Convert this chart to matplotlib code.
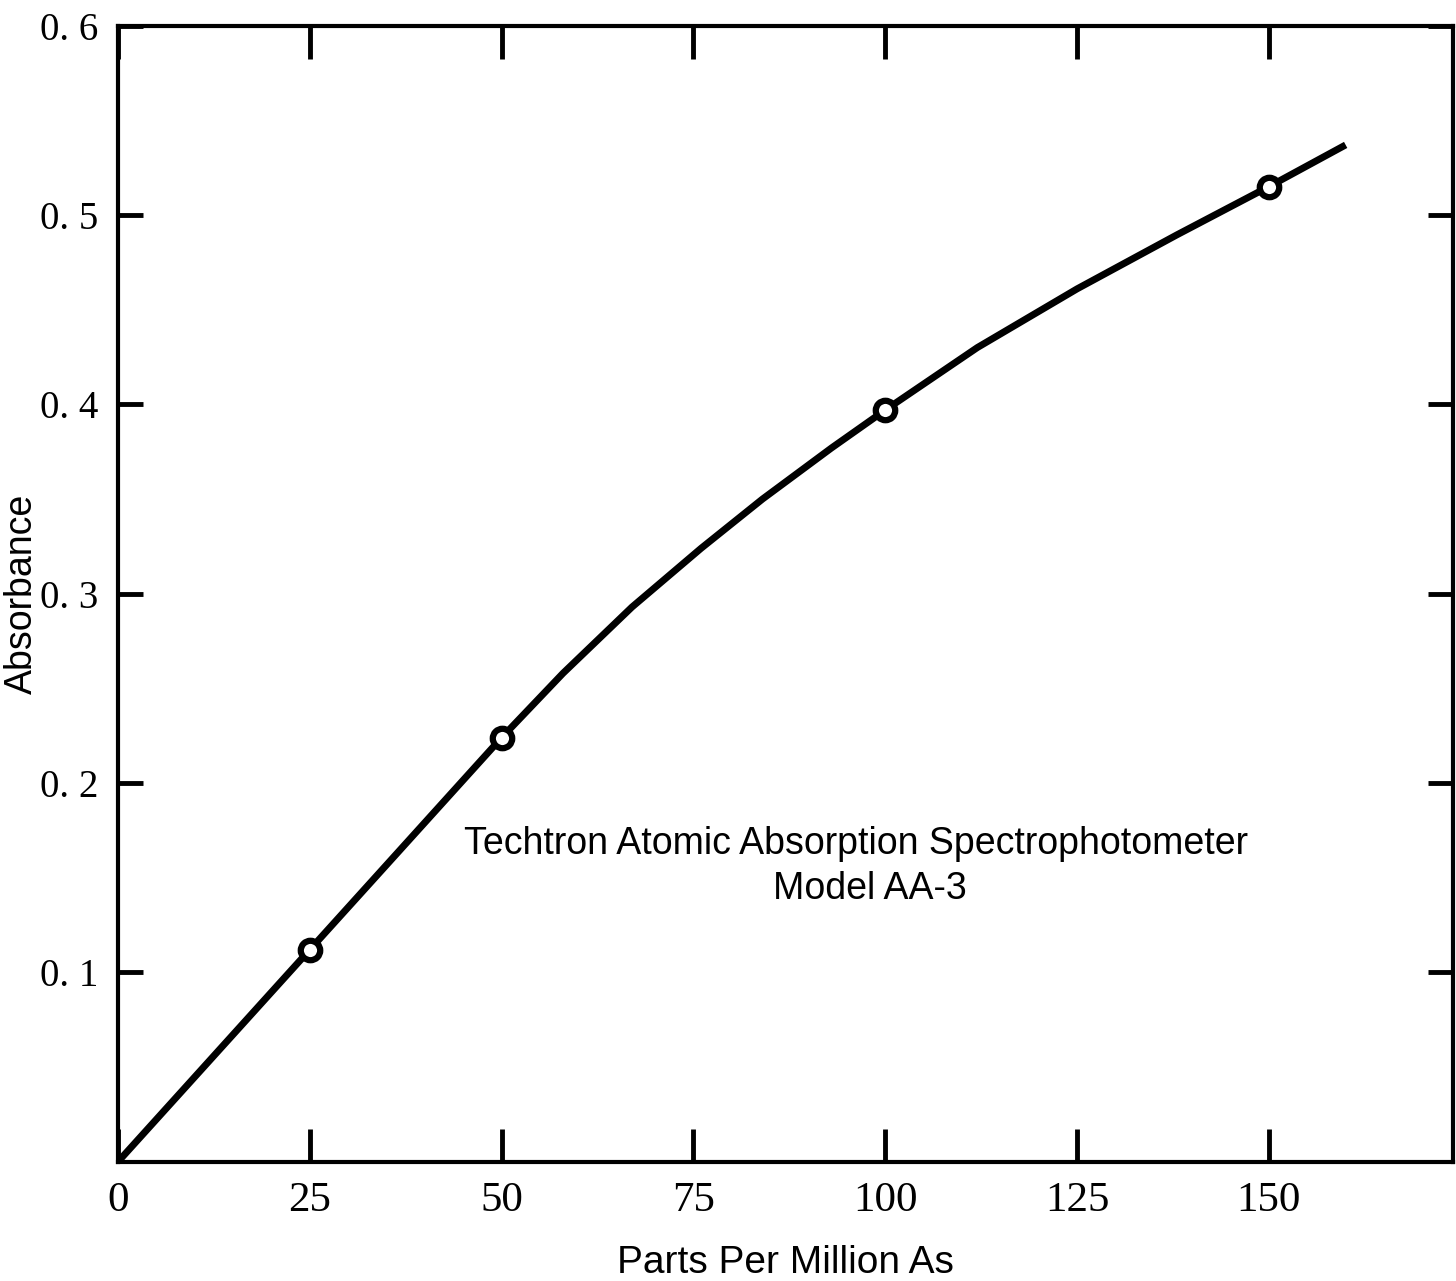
import matplotlib
matplotlib.use("Agg")
import matplotlib.pyplot as plt

# calibration points (ppm As vs absorbance)
ppm = [25, 50, 100, 150]
absorbance = [0.112, 0.224, 0.397, 0.515]

# drawn calibration curve
curve_ppm = [0, 25, 50, 58, 67, 76, 84, 93, 100, 112, 125, 138, 150, 160]
curve_abs = [0.0, 0.112, 0.224, 0.258, 0.293, 0.324, 0.350, 0.377, 0.397,
             0.430, 0.461, 0.4895, 0.515, 0.537]

x_ticks = [0, 25, 50, 75, 100, 125, 150]
y_ticks = [0.1, 0.2, 0.3, 0.4, 0.5, 0.6]
y_labels = ["0. 1", "0. 2", "0. 3", "0. 4", "0. 5", "0. 6"]

plt.rcParams["font.family"] = ["Liberation Sans", "DejaVu Sans"]

fig = plt.figure(figsize=(14.56, 12.81), dpi=100)
ax = fig.add_axes([0.081, 0.093, 0.917, 0.887])

ax.plot(curve_ppm, curve_abs, color="black", lw=5, solid_joinstyle="round",
        solid_capstyle="butt", zorder=2)
ax.plot(ppm, absorbance, "o", ms=14, mfc="white", mec="black", mew=4.5, zorder=3)

ax.set_xlim(0, 174)
ax.set_ylim(0, 0.6)
ax.set_xticks(x_ticks)
ax.set_xticklabels([str(t) for t in x_ticks])
ax.set_yticks(y_ticks)
ax.set_yticklabels(y_labels)

ax.tick_params(direction="in", length=24, width=3.5, top=True, right=True,
               labelsize=31, pad=14, color="black")
ax.tick_params(axis="y", length=18, pad=14, labelsize=28)
for lbl in ax.get_xticklabels() + ax.get_yticklabels():
    lbl.set_family(["Liberation Serif", "DejaVu Serif"])
for s in ax.spines.values():
    s.set_linewidth(3)

ax.set_xlabel("Parts Per Million As", fontsize=28, labelpad=18)
ax.set_ylabel("Absorbance", fontsize=27, va="center")
ax.yaxis.set_label_coords(-0.072, 0.5)

ax.text(96.2, 0.168, "Techtron Atomic Absorption Spectrophotometer",
        fontsize=27, ha="center", va="center")
ax.text(98, 0.144, "Model AA-3", fontsize=27, ha="center", va="center")

fig.savefig("out.png", dpi=100)
